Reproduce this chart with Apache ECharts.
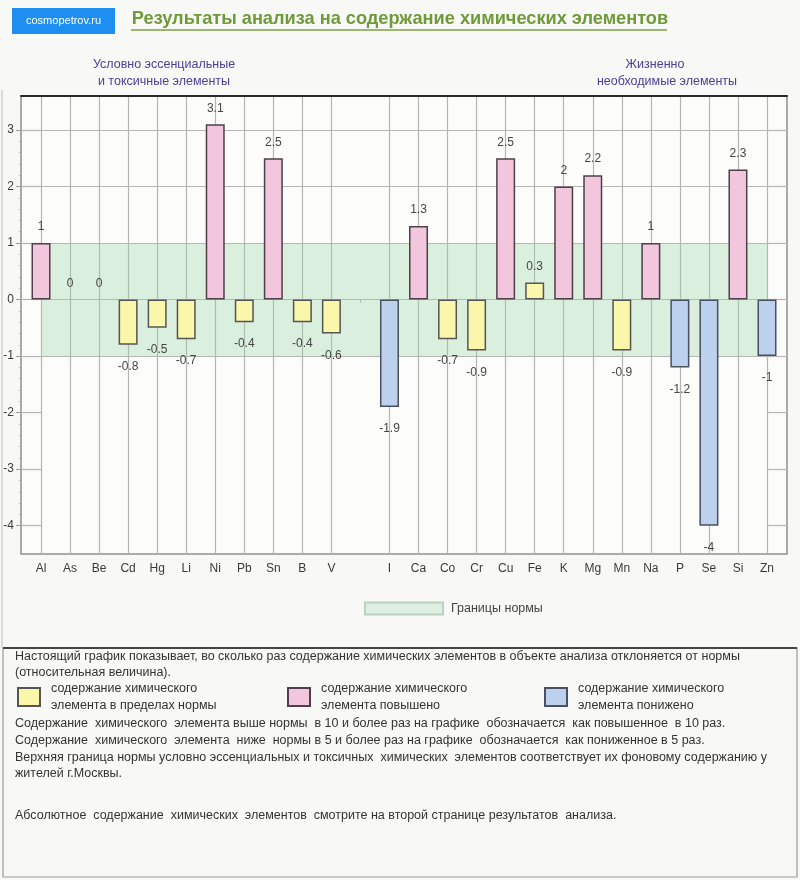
<!DOCTYPE html>
<html>
<head>
<meta charset="utf-8">
<script src="https://cdn.jsdelivr.net/npm/echarts@6/dist/echarts.min.js"></script>
<style>
  html, body { margin: 0; padding: 0; background: #f8f8f6; }
  #chart { width: 800px; height: 880px; }
</style>
</head>
<body>
<div id="chart"></div>
<script>
// ---------------- data ----------------
const categories = ['Al','As','Be','Cd','Hg','Li','Ni','Pb','Sn','B','V','','I','Ca','Co','Cr','Cu','Fe','K','Mg','Mn','Na','P','Se','Si','Zn'];
const values = [1, 0, 0, -0.8, -0.5, -0.7, 3.1, -0.4, 2.5, -0.4, -0.6, null, -1.9, 1.3, -0.7, -0.9, 2.5, 0.3, 2, 2.2, -0.9, 1, -1.2, -4, 2.3, -1];
const normLow = -1;
const normHigh = 1;
const yTickMin = -4;
const yTickMax = 3;
const yMin = -4.5;
const yMax = 3.6;

const titleText = 'Результаты анализа на содержание химических элементов';
const badgeText = 'cosmopetrov.ru';
const groupLeft = ['Условно эссенциальные', 'и токсичные элементы'];
const groupRight = ['Жизненно', 'необходимые элементы'];
const bandName = 'Границы нормы';
const nameNorm = 'содержание химического\nэлемента в пределах нормы';
const nameHigh = 'содержание химического\nэлемента повышено';
const nameLow = 'содержание химического\nэлемента понижено';
const notes1 = [
  'Настоящий график показывает, во сколько раз содержание химических элементов в объекте анализа отклоняется от нормы',
  '(относительная величина).'
];
const notes2 = [
  'Содержание  химического  элемента выше нормы  в 10 и более раз на графике  обозначается  как повышенное  в 10 раз.',
  'Содержание  химического  элемента  ниже  нормы в 5 и более раз на графике  обозначается  как пониженное в 5 раз.',
  'Верхняя граница нормы условно эссенциальных и токсичных  химических  элементов соответствует их фоновому содержанию у',
  'жителей г.Москвы.'
];
const notes3 = 'Абсолютное  содержание  химических  элементов  смотрите на второй странице результатов  анализа.';

// ---------------- layout ----------------
const FONT = '"Liberation Sans", Arial, sans-serif';
const plotTop = 96, plotBottom = 554, plotLeft = 21, plotRight = 787;
const W = 800, H = 880;
const yPix = v => plotTop + (yMax - v) / (yMax - yMin) * (plotBottom - plotTop);
const gridCol = '#b5b5b5';

function status(v) {
  if (v == null) return null;
  if (v >= normHigh) return 'high';
  if (v <= normLow) return 'low';
  return 'norm';
}
function seriesData(kind) {
  return values.map(v => {
    if (status(v) !== kind) return '-';
    const item = { value: v, label: { position: v < 0 ? 'bottom' : 'top', distance: v < 0 ? 16 : 10 } };
    if (v === 0) item.itemStyle = { borderWidth: 0 };
    return item;
  });
}
const barBase = {
  type: 'bar', xAxisIndex: 2, yAxisIndex: 4, barWidth: 19, barGap: '-100%', clip: false,
  label: { show: true, fontFamily: FONT, fontSize: 12, color: '#454545' },
  emphasis: { disabled: true }
};
const vColors = categories.map(c => c === '' ? 'rgba(0,0,0,0)' : gridCol);
const hColors = [];
for (let t = yTickMin; t <= yTickMax; t++) hColors.push(t < normLow ? 'rgba(0,0,0,0)' : gridCol);

const chart = echarts.init(document.getElementById('chart'), null, { renderer: 'canvas' });

function textEl(x, y, text, style) {
  return { type: 'text', x, y, silent: true,
    style: Object.assign({ text, fontFamily: FONT, fontSize: 12.5, fill: '#333', textVerticalAlign: 'middle' }, style) };
}

const graphics = [
  { type: 'rect', shape: { x: 12, y: 8, width: 103, height: 26 }, style: { fill: '#1f8ef1' }, silent: true },
  textEl(63.5, 21, badgeText, { fill: '#fff', fontSize: 11, textAlign: 'center' }),
  textEl(400, 19, titleText, { fill: '#6f9a3a', fontSize: 18.2, fontWeight: 'bold', textAlign: 'center' }),
  { type: 'line', shape: { x1: 131, y1: 30, x2: 667, y2: 30 }, style: { stroke: '#7ba045', lineWidth: 1.5 }, silent: true },
  textEl(164, 65, groupLeft[0], { fill: '#4a3f95', fontSize: 12.5, textAlign: 'center' }),
  textEl(164, 82, groupLeft[1], { fill: '#4a3f95', fontSize: 12.5, textAlign: 'center' }),
  textEl(655, 65, groupRight[0], { fill: '#4a3f95', fontSize: 12.5, textAlign: 'center' }),
  textEl(667, 82, groupRight[1], { fill: '#4a3f95', fontSize: 12.5, textAlign: 'center' }),
  // footnote frame
  { type: 'rect', shape: { x: 3, y: 648, width: 794, height: 229 }, style: { fill: 'none', stroke: '#9a9a9a', lineWidth: 1.2 }, silent: true },
  { type: 'line', shape: { x1: 3, y1: 648, x2: 797, y2: 648 }, style: { stroke: '#444', lineWidth: 2 }, silent: true },
  { type: 'line', shape: { x1: 2, y1: 90, x2: 2, y2: 648 }, style: { stroke: '#bdbdbd', lineWidth: 1 }, silent: true },
  textEl(15, 657, notes1[0]),
  textEl(15, 673, notes1[1]),
  textEl(15, 724, notes2[0]),
  textEl(15, 741, notes2[1]),
  textEl(15, 758, notes2[2]),
  textEl(15, 774, notes2[3]),
  textEl(15, 816, notes3)
];

const legendText = { fontFamily: FONT, fontSize: 12.5, color: '#333', lineHeight: 17 };
const option = {
  backgroundColor: '#f8f8f6',
  animation: false,
  textStyle: { fontFamily: FONT },
  grid: [
    { left: plotLeft, right: W - plotRight, top: plotTop, bottom: H - plotBottom, show: true,
      backgroundColor: '#fcfcfb', borderColor: '#8e8e8e', borderWidth: 1.5 },
    { left: plotLeft, right: W - plotRight, top: yPix(yTickMax), bottom: H - yPix(yTickMin) },
    { left: 41, right: W - 767, top: plotTop, bottom: H - plotBottom }
  ],
  xAxis: [
    { gridIndex: 0, type: 'value', position: 'top', min: 0, max: 1,
      axisLine: { show: true, onZero: false, lineStyle: { color: '#2b2b2b', width: 2 } },
      axisTick: { show: false }, axisLabel: { show: false }, splitLine: { show: false } },
    { gridIndex: 1, type: 'value', show: false, min: 0, max: 1 },
    { gridIndex: 2, type: 'category', data: categories, boundaryGap: false,
      axisLine: { show: false },
      axisTick: { show: true, length: 3, interval: 0, lineStyle: { color: gridCol } },
      axisLabel: { interval: 0, margin: 9, fontFamily: FONT, fontSize: 12, color: '#3a3a3a' },
      splitLine: { show: true, interval: 0, lineStyle: { color: vColors, width: 1.2 } } }
  ],
  yAxis: [
    { gridIndex: 0, type: 'value', show: false, min: 0, max: 1 },
    { gridIndex: 1, type: 'value', position: 'left', min: yTickMin, max: yTickMax, interval: 1,
      axisLine: { show: false },
      axisTick: { show: true, length: 5, lineStyle: { color: '#9a9a9a' } },
      minorTick: { show: true, splitNumber: 5, length: 2, lineStyle: { color: '#b0b0b0' } },
      axisLabel: { margin: 7, fontFamily: FONT, fontSize: 12, color: '#3a3a3a' },
      splitLine: { show: true, lineStyle: { color: hColors, width: 1.2 } } },
    { gridIndex: 1, type: 'value', position: 'left', min: yTickMin, max: yTickMax, interval: 1,
      axisLine: { show: false }, axisLabel: { show: false }, splitLine: { show: false },
      axisTick: { show: true, inside: true, length: 20, lineStyle: { color: gridCol, width: 1.2 } } },
    { gridIndex: 1, type: 'value', position: 'right', min: yTickMin, max: yTickMax, interval: 1,
      axisLine: { show: false }, axisLabel: { show: false }, splitLine: { show: false },
      axisTick: { show: true, inside: true, length: 20, lineStyle: { color: gridCol, width: 1.2 } } },
    { gridIndex: 2, type: 'value', show: false, min: yMin, max: yMax }
  ],
  legend: [
    { data: [bandName], left: 359, top: 595, icon: 'rect', itemWidth: 78, itemHeight: 12, selectedMode: false,
      textStyle: Object.assign({}, legendText, { padding: [0, 0, 0, 3], color: '#444' }) },
    { data: [nameNorm], left: 12, top: 675, icon: 'rect', itemWidth: 22, itemHeight: 18, selectedMode: false,
      textStyle: Object.assign({}, legendText, { padding: [0, 0, 0, 6] }) },
    { data: [nameHigh], left: 282, top: 675, icon: 'rect', itemWidth: 22, itemHeight: 18, selectedMode: false,
      textStyle: Object.assign({}, legendText, { padding: [0, 0, 0, 6] }) },
    { data: [nameLow], left: 539, top: 675, icon: 'rect', itemWidth: 22, itemHeight: 18, selectedMode: false,
      textStyle: Object.assign({}, legendText, { padding: [0, 0, 0, 6] }) }
  ],
  graphic: graphics,
  series: [
    Object.assign({}, barBase, { name: bandName, data: [], label: { show: false },
      itemStyle: { color: '#dcefe1', borderColor: '#b9d3c0', borderWidth: 1 },
      markArea: { silent: true, itemStyle: { color: 'rgba(150,210,165,0.32)' },
        data: [[{ yAxis: normLow }, { yAxis: normHigh }]] } }),
    Object.assign({}, barBase, { name: nameNorm, data: seriesData('norm'),
      itemStyle: { color: '#faf6aa', borderColor: '#555', borderWidth: 1.5 } }),
    Object.assign({}, barBase, { name: nameHigh, data: seriesData('high'),
      itemStyle: { color: '#f2c6dc', borderColor: '#4d4048', borderWidth: 1.5 } }),
    Object.assign({}, barBase, { name: nameLow, data: seriesData('low'),
      itemStyle: { color: '#bbd1ee', borderColor: '#4a5060', borderWidth: 1.5 } })
  ]
};
chart.setOption(option);
</script>
</body>
</html>
